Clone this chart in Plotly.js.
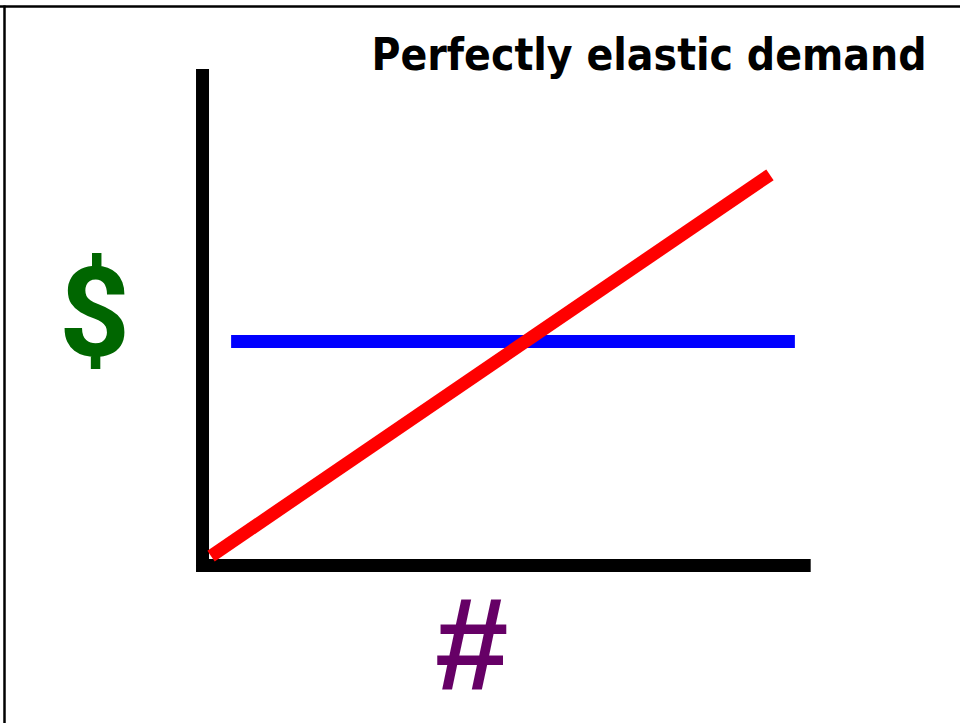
<!DOCTYPE html>
<html>
<head>
<meta charset="utf-8">
<script src="https://cdn.plot.ly/plotly-3.0.1.min.js"></script>
<style>
  html, body { margin: 0; padding: 0; background: #fff; }
  #chart { width: 960px; height: 723px; }
</style>
</head>
<body>
<div id="chart"></div>
<script>
// Axes frame (L-shaped) in data units
const axisX = [0, 0, 10];
const axisY = [10, 0, 0];
// Supply (red, upward sloping)
const supplyX = [0.14, 9.33];
const supplyY = [0.19, 7.87];
// Perfectly elastic demand (blue, horizontal)
const demandX = [0.47, 9.74];
const demandY = [4.51, 4.51];
// Labels
const titleText = 'Perfectly elastic demand';
const yLabel = '$';
const xLabel = '#';

const traces = [
  { x: axisX, y: axisY, mode: 'lines', line: { color: '#000000', width: 13 }, hoverinfo: 'skip', showlegend: false },
  { x: demandX, y: demandY, mode: 'lines', line: { color: '#0000ff', width: 13 }, hoverinfo: 'skip', showlegend: false },
  { x: supplyX, y: supplyY, mode: 'lines', line: { color: '#ff0000', width: 13 }, hoverinfo: 'skip', showlegend: false }
];

const layout = {
  width: 960, height: 723,
  margin: { l: 0, r: 0, t: 0, b: 0, pad: 0 },
  paper_bgcolor: '#ffffff', plot_bgcolor: '#ffffff',
  showlegend: false,
  title: {
    text: '<b>' + titleText + '</b>',
    font: { family: 'DejaVu Sans Condensed, DejaVu Sans, sans-serif', size: 44, color: '#000000' },
    x: 649 / 960, xref: 'container', xanchor: 'center',
    y: 1 - 55 / 723, yref: 'container', yanchor: 'middle'
  },
  xaxis: { range: [-3.33, 12.455], visible: false, fixedrange: true },
  yaxis: { range: [-3.172, 11.39], visible: false, fixedrange: true },
  annotations: [
    { text: '<b>' + yLabel + '</b>', xref: 'paper', yref: 'paper', x: 94.5 / 960, y: 1 - 313 / 723,
      xanchor: 'center', yanchor: 'middle', showarrow: false,
      font: { family: 'Roboto, Open Sans, sans-serif', size: 124, color: '#006600' } },
    { text: '<b>' + xLabel + '</b>', xref: 'paper', yref: 'paper', x: 471 / 960, y: 1 - 644 / 723,
      xanchor: 'center', yanchor: 'middle', showarrow: false,
      font: { family: 'Liberation Sans, sans-serif', size: 132, color: '#660066' } }
  ],
  shapes: [
    { type: 'line', xref: 'paper', yref: 'paper', x0: 0, x1: 1, y0: 1 - 6.5 / 723, y1: 1 - 6.5 / 723, line: { color: '#000', width: 2.5 } },
    { type: 'line', xref: 'paper', yref: 'paper', x0: 4.5 / 960, x1: 4.5 / 960, y0: 0, y1: 1 - 5.5 / 723, line: { color: '#000', width: 2.5 } }
  ]
};

Plotly.newPlot('chart', traces, layout, { displayModeBar: false, staticPlot: true });
</script>
</body>
</html>
